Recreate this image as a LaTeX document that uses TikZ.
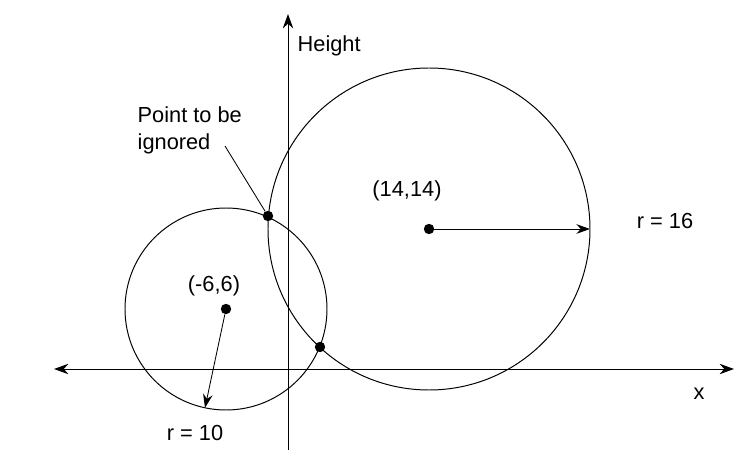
\documentclass[tikz,border=0pt]{standalone}
\usepackage{fontspec}
\setmainfont{Liberation Sans}
\usepackage{tikz}
\usetikzlibrary{positioning,arrows.meta,calc}

\begin{document}
\begin{tikzpicture}[
    x=0.25cm, y=0.25cm,
    dot/.style={circle, fill=black, minimum size=2.6mm, inner sep=0pt},
    label/.style={font=\fontsize{15.5}{19}\selectfont, inner sep=1pt},
    ring/.style={line width=0.7pt},
    axis/.style={line width=0.7pt, {Stealth[length=3.6mm,width=2.6mm]}-{Stealth[length=3.6mm,width=2.6mm]}},
    radius/.style={line width=0.6pt, -{Stealth[length=3.4mm,width=2.4mm]}},
  ]
  \useasboundingbox (-28.9,-10.2) rectangle (45.8,36.9);

  % Axes
  \coordinate (xl) at (-23.5,0);
  \coordinate (xr) at (44.5,0);
  \coordinate (yb) at (-0.1,-8.1);
  \coordinate (yt) at (-0.1,35.5);
  \draw[axis] (xl) -- (xr);
  \draw[axis, {Stealth[length=3.6mm,width=2.6mm]}-] (yt) -- (yb);
  \node[label] (xlab) at (41,-2.5) {x};
  \node[label, right] (hlab) at (0.7,32.3) {Height};

  % Circle centres
  \node[dot] (c1) at (-6.3,6) {};
  \node[dot] (c2) at (14,14) {};
  \draw[ring] (c1.center) circle (10.1);
  \draw[ring] (c2.center) circle (16.1);

  % Radii
  \coordinate (r1) at ($(c1.center)+(258:10.1)$);
  \coordinate (r2) at ($(c2.center)+(0:16.1)$);
  \draw[radius] (c1) -- (r1);
  \draw[radius] (c2) -- (r2);

  % Intersection points
  \node[dot] (p1) at (-2.1,15.3) {};
  \node[dot] (p2) at (3.1,2.2) {};

  % Labels
  \node[label] (l1) at (-7.5,8.3) {(-6,6)};
  \node[label] (l2) at (11.8,17.8) {(14,14)};
  \node[label] (r1lab) at (-9.4,-6.4) {r = 10};
  \node[label] (r2lab) at (37.6,14.8) {r = 16};
  \node[label, align=left, anchor=north west] (note) at (-15.3,26.4) {Point to be\\ignored};
  \coordinate (tail) at (-6.4,22.3);
  \draw[line width=0.6pt] (tail) -- (p1);
\end{tikzpicture}
\end{document}
